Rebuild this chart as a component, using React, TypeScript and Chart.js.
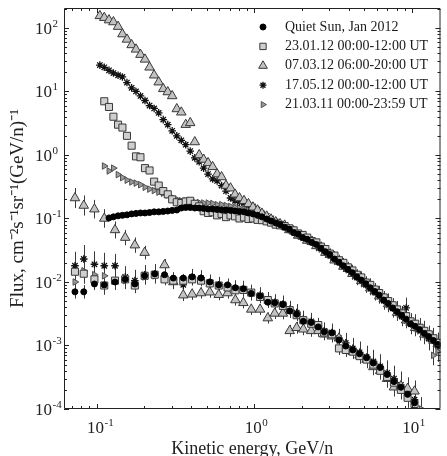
import React, { useEffect, useRef } from 'react';
import { Chart, registerables } from 'chart.js';
import { drawPoint } from 'chart.js/helpers';

Chart.register(...registerables);

// Energy grid (GeV/n) of the upper (dense) group of spectra
const energyUpper = [
  0.105, 0.112, 0.12, 0.128, 0.137, 0.146, 0.156, 0.167, 0.178, 0.19,
  0.203, 0.217, 0.232, 0.248, 0.265, 0.283, 0.302, 0.323, 0.345, 0.368,
  0.393, 0.42, 0.448, 0.478, 0.51, 0.545, 0.582, 0.621, 0.663, 0.708,
  0.756, 0.807, 0.862, 0.92, 0.982, 1.05, 1.12, 1.2, 1.28, 1.37,
  1.46, 1.56, 1.67, 1.78, 1.9, 2.03, 2.17, 2.32, 2.48, 2.65,
  2.83, 3.02, 3.23, 3.45, 3.68, 3.93, 4.2, 4.48, 4.78, 5.1,
  5.45, 5.82, 6.21, 6.63, 7.08, 7.56, 8.07, 8.62, 9.2, 9.82,
  10.5, 11.2, 12.0, 12.8, 13.7, 14.6,
];

// Energy grid (GeV/n) of the lower group of spectra
const energyLower = [
  0.073, 0.083, 0.097, 0.112, 0.131, 0.152, 0.175, 0.202, 0.234, 0.27,
  0.307, 0.355, 0.404, 0.46, 0.523, 0.596, 0.678, 0.76, 0.854, 0.958,
  1.09, 1.22, 1.35, 1.52, 1.68, 1.86, 2.05, 2.3, 2.55, 2.78,
  3.11, 3.45, 3.81, 4.22, 4.66, 5.16, 5.7, 6.3, 6.97, 7.7,
  8.52, 9.4, 10.4, 11.5,
];

// Quiet Sun, Jan 2012
const quietUpper = [
  null, null, 0.102, 0.106, 0.11, 0.112, 0.114, 0.118, 0.12, 0.122,
  0.122, 0.124, 0.127, 0.127, 0.129, 0.131, 0.134, 0.136, 0.146, 0.149,
  0.149, 0.146, 0.146, 0.144, 0.141, 0.141, 0.139, 0.136, 0.136, 0.134,
  0.131, 0.129, 0.127, 0.122, 0.118, 0.112, 0.106, 0.098, 0.091, 0.085,
  0.08, 0.073, 0.068, 0.06, 0.057, 0.05, 0.047, 0.042, 0.039, 0.034,
  0.03, 0.027, 0.023, 0.0205, 0.018, 0.0158, 0.014, 0.0121, 0.0107, 0.0094,
  0.0081, 0.0071, 0.0062, 0.0052, 0.0046, 0.0039, 0.0034, 0.003, 0.0026, 0.0022,
  0.002, 0.00178, 0.00155, 0.00138, 0.0012, 0.00104,
];
const quietLower = [
  0.007, 0.007, 0.0093, 0.009, 0.01, 0.011, 0.0093, 0.0125, 0.0134, 0.013,
  0.0115, 0.0115, 0.012, 0.0115, 0.01, 0.009, 0.009, 0.0081, 0.0078, 0.0066,
  0.006, 0.0048, 0.0047, 0.0044, 0.0035, 0.0031, 0.0024, 0.0023, 0.00196, 0.00164,
  0.00158, 0.00122, 0.00098, 0.00085, 0.00074, 0.00064, 0.00053, 0.00045, 0.00035, 0.00027,
  0.00022, 0.00017, 0.000125, null,
];

// 23.01.12 00:00-12:00 UT
const jan23Upper = [
  null, 7.0, 5.7, 4.0, 3.0, 2.7, 2.0, 1.4, 0.95, 0.92,
  0.62, 0.57, 0.38, 0.33, 0.27, 0.24, 0.2, 0.18, 0.175, 0.185,
  0.19, 0.17, 0.155, 0.13, 0.122, 0.125, 0.112, 0.118, 0.105, 0.112,
  0.108, 0.1, 0.104, 0.098, 0.1, 0.095, 0.094, 0.09, 0.086, 0.08,
  0.078, 0.076, 0.07, 0.065, 0.058, 0.055, 0.05, 0.044, 0.042, 0.036,
  0.033, 0.028, 0.026, 0.022, 0.02, 0.017, 0.0152, 0.013, 0.0118, 0.0098,
  0.009, 0.0076, 0.0067, 0.0057, 0.005, 0.0043, 0.0037, 0.0032, 0.0029, 0.0024,
  0.0022, 0.0019, 0.0017, 0.0015, 0.0013, 0.0011,
];
const jan23Lower = [
  0.0145, 0.0135, 0.011, 0.0088, 0.0105, 0.011, 0.0088, 0.0125, 0.013, 0.011,
  0.0105, 0.0105, 0.011, 0.0105, 0.0095, 0.0088, 0.0082, 0.0074, 0.0075, 0.0068,
  0.0058, 0.0052, 0.0046, 0.0042, 0.0036, 0.003, 0.0025, 0.0022, 0.0021, 0.0016,
  0.0015, 0.0009, 0.00085, 0.0008, 0.00068, 0.0006, 0.0005, 0.0004, 0.00032, 0.00026,
  0.0002, 0.00015, 0.00012, null,
];

// 07.03.12 06:00-20:00 UT
const mar07Upper = [
  155, 145, 133, 124, 105, 80, 66, 54, 46, 38,
  32, 24, 18, 14, 11, 9.8, 8.5, 5.3, 4.7, 3.0,
  3.2, 1.6, 1.0, 0.85, 0.75, 0.65, 0.5, 0.45, 0.33, 0.3,
  0.24, 0.21, 0.19, 0.17, 0.15, 0.135, 0.12, 0.108, 0.097, 0.088,
  0.082, 0.078, 0.066, 0.063, 0.054, 0.052, 0.045, 0.043, 0.037, 0.035,
  0.029, 0.027, 0.022, 0.021, 0.0175, 0.0162, 0.0135, 0.0125, 0.0104, 0.0095,
  0.008, 0.0072, 0.006, 0.0054, 0.0045, 0.0041, 0.0033, 0.0031, 0.0025, 0.0023,
  0.0019, 0.0018, 0.0015, 0.0014, 0.0012, 0.00105,
];
const mar07Lower = [
  0.21, 0.16, 0.14, 0.1, 0.066, 0.05, 0.038, 0.029, null, 0.0185,
  0.01, 0.0062, 0.0064, 0.0067, 0.0069, 0.0063, 0.0067, 0.0052, 0.0047, 0.0037,
  0.0037, 0.0027, 0.0032, 0.0032, 0.0017, 0.0019, 0.0018, 0.0017, 0.0017, 0.0015,
  0.0014, 0.0013, 0.00095, 0.0008, 0.0007, 0.0006, 0.00046, 0.0004, 0.0003, 0.00022,
  0.00023, 0.00021, 0.00019, null,
];

// 17.05.12 00:00-12:00 UT
const may17Upper = [
  26, 24, 21.5, 19.5, 18, 16.9, 13.8, 11.4, 10, 8.5,
  7.2, 6.0, 5.4, 4.6, 3.6, 3.0, 2.4, 2.0, 1.7, 1.45,
  1.15, 0.9, 0.78, 0.62, 0.5, 0.42, 0.39, 0.33, 0.27, 0.21,
  0.19, 0.18, 0.175, 0.165, 0.155, 0.138, 0.12, 0.11, 0.1, 0.09,
  0.083, 0.075, 0.069, 0.062, 0.055, 0.052, 0.046, 0.044, 0.037, 0.035,
  0.03, 0.027, 0.024, 0.021, 0.0185, 0.016, 0.0142, 0.0118, 0.011, 0.0091,
  0.0084, 0.007, 0.0063, 0.0051, 0.0047, 0.0039, 0.0035, 0.0029, 0.0039, 0.0022,
  0.0021, 0.0018, 0.0016, 0.0013, 0.0012, 0.001,
];
const may17Lower = [
  0.018, 0.023, 0.019, 0.018, 0.018, 0.012, 0.0105, 0.013, 0.0135, 0.0125,
  0.0105, 0.009, 0.012, 0.0115, 0.0098, 0.009, 0.0085, 0.008, 0.0078, 0.0068,
  0.0062, 0.0052, 0.0048, 0.0045, 0.0037, 0.0033, 0.0026, 0.0024, 0.002, 0.0017,
  0.0016, 0.0013, 0.0011, 0.0009, 0.00078, 0.00066, 0.00056, 0.00047, 0.00037, 0.0003,
  0.00024, 0.00019, 0.00014, null,
];

// 21.03.11 00:00-23:59 UT
const mar21Upper = [
  null, 0.67, 0.56, 0.62, 0.49, 0.44, 0.4, 0.375, 0.36, 0.34,
  0.31, 0.29, 0.275, 0.26, 0.25, 0.235, 0.215, 0.2, 0.19, 0.19,
  0.185, 0.18, 0.178, 0.175, 0.175, 0.172, 0.165, 0.165, 0.16, 0.155,
  0.15, 0.145, 0.14, 0.135, 0.13, 0.125, 0.115, 0.105, 0.097, 0.09,
  0.082, 0.073, 0.067, 0.06, 0.056, 0.05, 0.046, 0.043, 0.038, 0.033,
  0.031, 0.026, 0.0235, 0.0205, 0.018, 0.0155, 0.0138, 0.012, 0.0106, 0.0092,
  0.008, 0.0069, 0.006, 0.0052, 0.0044, 0.0039, 0.0033, 0.0029, 0.0025, 0.0022,
  0.0019, 0.0017, 0.0015, 0.0013, 0.0007, 0.0008,
];
const mar21Lower = [
  0.01, 0.015, 0.013, 0.0125, 0.0105, 0.0105, 0.0095, 0.012, 0.0125, 0.012,
  0.011, 0.0105, 0.011, 0.011, 0.0095, 0.0088, 0.0085, 0.0078, 0.0074, 0.0066,
  0.006, 0.005, 0.0046, 0.0043, 0.0036, 0.0031, 0.0025, 0.0023, 0.0019, 0.0016,
  0.0015, 0.0012, 0.001, 0.00086, 0.00072, 0.00062, 0.00052, 0.00043, 0.00034, 0.00028,
  0.00022, 0.00017, 0.00011, 0.0001,
];

// Relative error-bar half sizes
const upperErr = [
  0, 0, 0, 0, 0, 0, 0, 0, 0, 0,
  0, 0, 0, 0, 0, 0, 0, 0, 0, 0,
  0, 0, 0, 0, 0, 0, 0, 0, 0, 0,
  0, 0, 0, 0, 0, 0.05, 0.06, 0.07, 0.08, 0.09,
  0.1, 0.12, 0.12, 0.13, 0.14, 0.15, 0.16, 0.17, 0.18, 0.19,
  0.2, 0.21, 0.22, 0.23, 0.24, 0.25, 0.26, 0.27, 0.28, 0.29,
  0.3, 0.31, 0.32, 0.33, 0.34, 0.35, 0.36, 0.37, 0.38, 0.39,
  0.4, 0.42, 0.44, 0.46, 0.48, 0.5,
];
const lowerErr = [
  0.55, 0.55, 0.5, 0.5, 0.45, 0.4, 0.4, 0.35, 0.35, 0.3,
  0.3, 0.3, 0.28, 0.28, 0.28, 0.28, 0.28, 0.28, 0.28, 0.28,
  0.28, 0.28, 0.28, 0.3, 0.3, 0.3, 0.3, 0.3, 0.3, 0.3,
  0.32, 0.34, 0.36, 0.38, 0.4, 0.42, 0.44, 0.46, 0.48, 0.5,
  0.52, 0.55, 0.6, 0.6,
];

const seriesLabels = [
  'Quiet Sun, Jan 2012',
  '23.01.12 00:00-12:00 UT',
  '07.03.12 06:00-20:00 UT',
  '17.05.12 00:00-12:00 UT',
  '21.03.11 00:00-23:59 UT',
];

const xTickValues = [0.1, 1, 10];
const yTickValues = [1e-4, 1e-3, 1e-2, 1e-1, 1, 10, 100];

const FONT = "'Liberation Serif', 'Times New Roman', serif";

function buildSeries(upper: (number | null)[], lower: (number | null)[], errScale: number) {
  const pts: { x: number; y: number }[] = [];
  const errs: number[] = [];
  upper.forEach((y, i) => {
    if (y != null) { pts.push({ x: energyUpper[i], y }); errs.push(upperErr[i] * errScale); }
  });
  lower.forEach((y, i) => {
    if (y != null) { pts.push({ x: energyLower[i], y }); errs.push(lowerErr[i] * errScale); }
  });
  return { pts, errs };
}

const errorBarsPlugin = {
  id: 'errorBars',
  beforeDatasetsDraw(chart: any) {
    const { ctx, chartArea } = chart;
    const xs = chart.scales.x, ys = chart.scales.y;
    ctx.save();
    ctx.beginPath();
    ctx.rect(chartArea.left, chartArea.top, chartArea.right - chartArea.left, chartArea.bottom - chartArea.top);
    ctx.clip();
    ctx.strokeStyle = '#3a3a3a';
    ctx.lineWidth = 1;
    ctx.beginPath();
    chart.data.datasets.forEach((ds: any) => {
      const errs = ds.errors as number[];
      if (!errs) return;
      ds.data.forEach((p: any, i: number) => {
        const e = errs[i];
        if (!e) return;
        const px = Math.round(xs.getPixelForValue(p.x)) + 0.5;
        ctx.moveTo(px, ys.getPixelForValue(p.y * (1 + e)));
        ctx.lineTo(px, ys.getPixelForValue(p.y / (1 + e)));
      });
    });
    ctx.stroke();
    ctx.restore();
  },
};

const frameTicksPlugin = {
  id: 'frameTicks',
  afterDatasetsDraw(chart: any) {
    const { ctx, chartArea } = chart;
    const { left, right, top, bottom } = chartArea;
    const xs = chart.scales.x, ys = chart.scales.y;
    ctx.save();
    ctx.strokeStyle = '#222';
    ctx.lineWidth = 1;
    ctx.beginPath();
    ctx.rect(left + 0.5, top + 0.5, right - left - 1, bottom - top - 1);
    for (let e = -2; e <= 2; e++) {
      for (let m = 1; m <= 9; m++) {
        const v = m * Math.pow(10, e);
        if (v < xs.min || v > xs.max) continue;
        const p = Math.round(xs.getPixelForValue(v)) + 0.5;
        const L = m === 1 ? 5 : 3;
        ctx.moveTo(p, bottom); ctx.lineTo(p, bottom - L);
        ctx.moveTo(p, top); ctx.lineTo(p, top + L);
      }
    }
    for (let e = -5; e <= 3; e++) {
      for (let m = 1; m <= 9; m++) {
        const v = m * Math.pow(10, e);
        if (v < ys.min || v > ys.max) continue;
        const p = Math.round(ys.getPixelForValue(v)) + 0.5;
        const L = m === 1 ? 5 : 3;
        ctx.moveTo(left, p); ctx.lineTo(left + L, p);
        ctx.moveTo(right, p); ctx.lineTo(right - L, p);
      }
    }
    ctx.stroke();
    ctx.restore();
  },
};

// Power-of-ten tick labels with a real (smaller, raised) exponent
const tickLabelsPlugin = {
  id: 'tickLabels',
  afterDraw(chart: any) {
    const { ctx } = chart;
    const xs = chart.scales.x, ys = chart.scales.y;
    const baseFont = `17px ${FONT}`;
    const supFont = `11px ${FONT}`;
    ctx.save();
    ctx.fillStyle = '#222';
    ctx.textBaseline = 'alphabetic';
    ctx.textAlign = 'left';
    const draw = (v: number, x0: number, baseline: number) => {
      const exp = String(Math.round(Math.log10(v)));
      ctx.font = baseFont;
      const w = ctx.measureText('10').width;
      ctx.fillText('10', x0, baseline);
      ctx.font = supFont;
      ctx.fillText(exp, x0 + w + 0.5, baseline - 7);
    };
    ctx.font = baseFont;
    const w10 = ctx.measureText('10').width;
    xTickValues.forEach((v) => {
      const px = xs.getPixelForValue(v);
      draw(v, px - w10 / 2 - 1, chart.chartArea.bottom + 24);
    });
    yTickValues.forEach((v) => {
      const py = ys.getPixelForValue(v);
      draw(v, 35, py + 6);
    });
    ctx.restore();
  },
};

const legendRadius = [3, 4.5, 5, 3.5, 3.5];
const insideLegendPlugin = {
  id: 'insideLegend',
  afterDraw(chart: any) {
    const ctx = chart.ctx;
    ctx.save();
    ctx.font = `14px ${FONT}`;
    ctx.textBaseline = 'middle';
    chart.data.datasets.forEach((ds: any, i: number) => {
      const y = 27 + i * 19.4;
      ctx.fillStyle = ds.pointBackgroundColor;
      ctx.strokeStyle = ds.pointBorderColor;
      ctx.lineWidth = ds.pointBorderWidth;
      drawPoint(ctx, {
        pointStyle: ds.pointStyle,
        rotation: ds.pointRotation || 0,
        radius: legendRadius[i],
        borderWidth: ds.pointBorderWidth,
      } as any, 263, y);
      ctx.fillStyle = '#1a1a1a';
      ctx.fillText(ds.label, 285, y);
    });
    ctx.restore();
  },
};

export default function App() {
  const ref = useRef<HTMLCanvasElement>(null);
  useEffect(() => {
    document.body.style.margin = '0';
    const q = buildSeries(quietUpper, quietLower, 0.5);
    const s = buildSeries(jan23Upper, jan23Lower, 0.8);
    const t = buildSeries(mar07Upper, mar07Lower, 0.8);
    const st = buildSeries(may17Upper, may17Lower, 1.2);
    const r = buildSeries(mar21Upper, mar21Lower, 0.9);
    const datasets: any[] = [
      { label: seriesLabels[0], data: q.pts, errors: q.errs, pointStyle: 'circle', pointRadius: 3,
        pointBackgroundColor: '#000', pointBorderColor: '#000', pointBorderWidth: 1 },
      { label: seriesLabels[1], data: s.pts, errors: s.errs, pointStyle: 'rect', pointRadius: 5,
        pointBackgroundColor: '#cfcfcf', pointBorderColor: '#383838', pointBorderWidth: 1 },
      { label: seriesLabels[2], data: t.pts, errors: t.errs, pointStyle: 'triangle', pointRadius: 5.5,
        pointBackgroundColor: '#c2c2c2', pointBorderColor: '#383838', pointBorderWidth: 1 },
      { label: seriesLabels[3], data: st.pts, errors: st.errs, pointStyle: 'star', pointRadius: 3.8,
        pointBackgroundColor: '#111', pointBorderColor: '#111', pointBorderWidth: 1.3 },
      { label: seriesLabels[4], data: r.pts, errors: r.errs, pointStyle: 'triangle', pointRotation: 90, pointRadius: 3.8,
        pointBackgroundColor: '#9a9a9a', pointBorderColor: '#505050', pointBorderWidth: 1 },
    ];
    const chart = new Chart(ref.current as HTMLCanvasElement, {
      type: 'scatter',
      data: { datasets },
      options: {
        animation: false,
        responsive: false,
        devicePixelRatio: 1,
        layout: { padding: { top: 8, right: 1, left: 0, bottom: 0 } },
        plugins: { legend: { display: false }, tooltip: { enabled: false } },
        scales: {
          x: {
            type: 'logarithmic',
            min: 0.0622,
            max: 15.2,
            afterBuildTicks: (sc: any) => { sc.ticks = xTickValues.map((v) => ({ value: v })); },
            afterFit: (sc: any) => { sc.height = 47; },
            grid: { display: false, drawTicks: false },
            border: { display: false },
            ticks: { display: false },
            title: {
              display: true, text: 'Kinetic energy, GeV/n', color: '#222',
              font: { family: FONT, size: 18, lineHeight: 0.75 },
              padding: { top: 0, bottom: 0 },
            },
          },
          y: {
            type: 'logarithmic',
            min: 1e-4,
            max: 206,
            afterBuildTicks: (sc: any) => { sc.ticks = yTickValues.map((v) => ({ value: v })); },
            afterFit: (sc: any) => { sc.width = 64; },
            grid: { display: false, drawTicks: false },
            border: { display: false },
            ticks: { display: false },
            title: {
              display: true, text: 'Flux, cm⁻²s⁻¹sr⁻¹(GeV/n)⁻¹', color: '#222',
              font: { family: FONT, size: 19, lineHeight: 1.2 },
              padding: { top: 7, bottom: 0 },
            },
          },
        },
      } as any,
      plugins: [errorBarsPlugin, frameTicksPlugin, tickLabelsPlugin, insideLegendPlugin],
    });
    return () => chart.destroy();
  }, []);
  return (
    <div style={{ width: 447, height: 456 }}>
      <canvas ref={ref} width={447} height={456} style={{ display: 'block' }} />
    </div>
  );
}
